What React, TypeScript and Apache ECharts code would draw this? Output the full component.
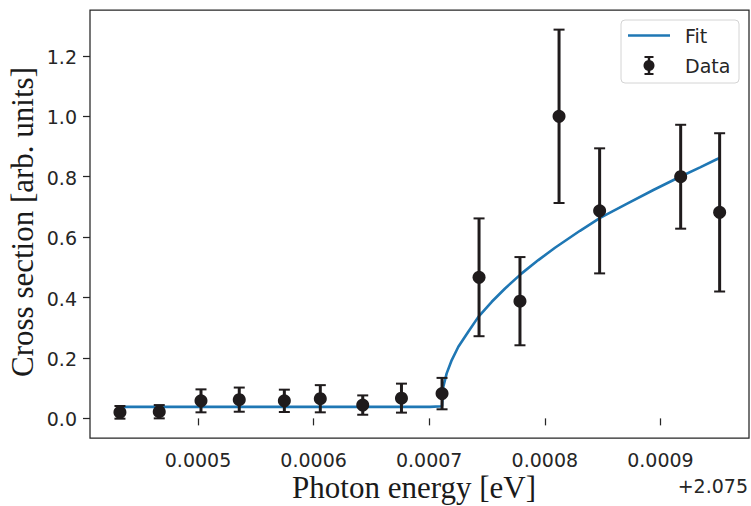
import React, { useEffect, useRef } from "react";
import * as echarts from "echarts";

// Photon energy offsets (eV, relative to +2.075)
const energies = [0.0004325, 0.0004665, 0.0005026, 0.0005357, 0.0005747, 0.0006058, 0.0006425, 0.000676, 0.0007111, 0.0007431, 0.0007785, 0.0008123, 0.0008474, 0.0009175, 0.0009512];
const crossSection = [0.020, 0.022, 0.058, 0.062, 0.058, 0.065, 0.044, 0.067, 0.082, 0.467, 0.388, 1.0, 0.687, 0.800, 0.682];
const errors = [0.021, 0.022, 0.038, 0.040, 0.037, 0.045, 0.032, 0.048, 0.052, 0.195, 0.146, 0.287, 0.207, 0.172, 0.262];

// Fit curve
const fitX = [0.0004325, 0.0007007, 0.0007111, 0.0007122, 0.0007151, 0.0007195, 0.0007252, 0.0007338, 0.0007425, 0.0007541, 0.0007656, 0.00078, 0.0007944, 0.0008088, 0.0008304, 0.0008478, 0.0008708, 0.0008939, 0.000917, 0.0009343, 0.0009487, 0.0009512];
const fitY = [0.038, 0.038, 0.040, 0.105, 0.149, 0.193, 0.237, 0.287, 0.336, 0.386, 0.430, 0.480, 0.524, 0.565, 0.621, 0.664, 0.710, 0.756, 0.800, 0.831, 0.858, 0.862];

const xTicks = [0.0005, 0.0006, 0.0007, 0.0008, 0.0009];
const yTicks = [0.0, 0.2, 0.4, 0.6, 0.8, 1.0, 1.2];

const INK = "#262626";
const MARK = "#1f1b1c";
const BLUE = "#1f77b4";
const SANS = "DejaVu Sans";
const SERIF = "Liberation Serif";

export default function App() {
  const ref = useRef<HTMLDivElement>(null);
  useEffect(() => {
    if (!ref.current) return;
    const chart = echarts.init(ref.current, null, { renderer: "svg" });
    const errData = energies.map((x, i) => [x, crossSection[i], crossSection[i] - errors[i], crossSection[i] + errors[i]]);
    const option: any = {
      animation: false,
      backgroundColor: "#ffffff",
      textStyle: { fontFamily: SANS, color: INK },
      grid: { left: 90, top: 10, width: 659, height: 428, show: true, borderColor: INK, borderWidth: 1.25, backgroundColor: "transparent", containLabel: false },
      xAxis: {
        type: "value",
        min: 0.0004066,
        max: 0.0009766,
        splitLine: { show: false },
        axisLine: { show: false },
        axisTick: { show: true, customValues: xTicks, length: 7, lineStyle: { color: INK, width: 1.25 } },
        axisLabel: { show: false },
      },
      yAxis: {
        type: "value",
        min: -0.065,
        max: 1.352,
        splitLine: { show: false },
        axisLine: { show: false },
        axisTick: { show: true, customValues: yTicks, length: 7, lineStyle: { color: INK, width: 1.25 } },
        axisLabel: { show: false },
      },
      series: [
        { name: "Fit", type: "line", data: fitX.map((x, i) => [x, fitY[i]]), showSymbol: false, lineStyle: { color: BLUE, width: 2.6 }, z: 2 },
        {
          name: "Data",
          type: "custom",
          data: errData,
          z: 3,
          renderItem: (params: any, api: any) => {
            const x = api.value(0);
            const lo = api.coord([x, api.value(2)]);
            const hi = api.coord([x, api.value(3)]);
            const st = { stroke: MARK, lineWidth: 3 };
            const cap = { stroke: MARK, lineWidth: 2 };
            return {
              type: "group",
              children: [
                { type: "line", shape: { x1: lo[0], y1: lo[1], x2: hi[0], y2: hi[1] }, style: st },
                { type: "line", shape: { x1: lo[0] - 5.5, y1: lo[1], x2: lo[0] + 5.5, y2: lo[1] }, style: cap },
                { type: "line", shape: { x1: hi[0] - 5.5, y1: hi[1], x2: hi[0] + 5.5, y2: hi[1] }, style: cap },
              ],
            };
          },
        },
        { name: "Data", type: "scatter", data: energies.map((x, i) => [x, crossSection[i]]), symbol: "circle", symbolSize: 13, itemStyle: { color: MARK, opacity: 1 }, z: 4 },
      ],
    };
    chart.setOption(option);

    // Tick labels placed through the axes' own scales
    const tickLabels: any[] = [];
    xTicks.forEach((v) => {
      const px = chart.convertToPixel({ xAxisIndex: 0 }, v) as number;
      tickLabels.push({ type: "text", x: px, y: 460, style: { text: v.toFixed(4), fontFamily: SANS, fontSize: 19, fill: INK, textAlign: "center", textVerticalAlign: "middle" } });
    });
    yTicks.forEach((v) => {
      const py = chart.convertToPixel({ yAxisIndex: 0 }, v) as number;
      tickLabels.push({ type: "text", x: 77, y: py + 1, style: { text: v.toFixed(1), fontFamily: SANS, fontSize: 19, fill: INK, textAlign: "right", textVerticalAlign: "middle" } });
    });

    const decorations: any[] = [
      { type: "rect", shape: { x: 621, y: 20, width: 118, height: 63, r: 4 }, style: { fill: "rgba(255,255,255,0.85)", stroke: "#d4d4d4", lineWidth: 1 }, z: 10 },
      { type: "line", shape: { x1: 628, y1: 35.5, x2: 670, y2: 35.5 }, style: { stroke: BLUE, lineWidth: 2.6 }, z: 11 },
      { type: "text", x: 685, y: 36, style: { text: "Fit", fontFamily: SANS, fontSize: 19, fill: INK, textVerticalAlign: "middle", textAlign: "left" }, z: 11 },
      { type: "line", shape: { x1: 649, y1: 57, x2: 649, y2: 74 }, style: { stroke: MARK, lineWidth: 2.5 }, z: 11 },
      { type: "line", shape: { x1: 644.5, y1: 57, x2: 653.5, y2: 57 }, style: { stroke: MARK, lineWidth: 2 }, z: 11 },
      { type: "line", shape: { x1: 644.5, y1: 74, x2: 653.5, y2: 74 }, style: { stroke: MARK, lineWidth: 2 }, z: 11 },
      { type: "circle", shape: { cx: 649, cy: 65.5, r: 5.5 }, style: { fill: MARK }, z: 11 },
      { type: "text", x: 685, y: 66, style: { text: "Data", fontFamily: SANS, fontSize: 19, fill: INK, textVerticalAlign: "middle", textAlign: "left" }, z: 11 },
      { type: "text", x: 748, y: 486, style: { text: "+2.075", fontFamily: SANS, fontSize: 19, fill: INK, textVerticalAlign: "middle", textAlign: "right" } },
      { type: "text", x: 414, y: 503, style: { text: "Photon energy [eV]", fontFamily: SERIF, fontSize: 31, fill: "#1a1a1a", textVerticalAlign: "bottom", textAlign: "center" } },
      { type: "text", x: 22, y: 222, rotation: Math.PI / 2, style: { text: "Cross section [arb. units]", fontFamily: SERIF, fontSize: 31, fill: "#1a1a1a", textVerticalAlign: "middle", textAlign: "center" } },
    ];
    chart.setOption({ graphic: tickLabels.concat(decorations) });
    return () => chart.dispose();
  }, []);
  return <div ref={ref} style={{ position: "fixed", left: 0, top: 0, width: 751, height: 506 }} />;
}
